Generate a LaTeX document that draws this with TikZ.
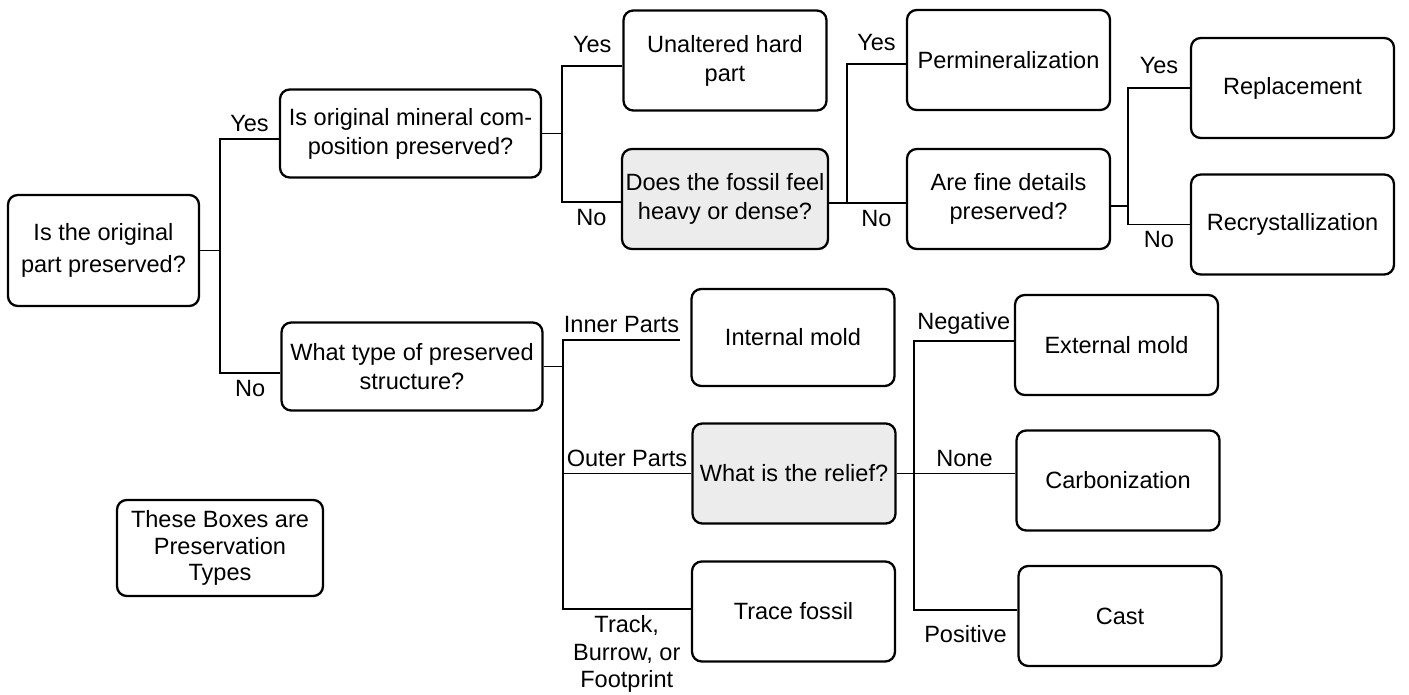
\documentclass[tikz,border=0pt]{standalone}
\usepackage{fontspec}
\setmainfont{Liberation Sans}
\usepackage{xcolor}
\usepackage{tikz}
\definecolor{qshade}{HTML}{ECECEC}

\begin{document}
\begin{tikzpicture}[
  x=0.02cm, y=-0.02cm,
  txt/.style={font=\fontsize{13.4}{16.5}\selectfont},
  box/.style={
    txt, draw=black, line width=1.3pt, rounded corners=5.5pt,
    fill=white, align=center, inner sep=2pt,
    minimum width=4.06cm, minimum height=2cm
  },
  ask/.style={box, minimum width=5.22cm, minimum height=1.76cm},
  askshade/.style={box, fill=qshade},
  link/.style={line width=1.1pt, black},
  lbl/.style={txt, align=center},
]
\useasboundingbox (0,0) rectangle (1409,695);

% Questions
\node[box, minimum width=3.82cm, minimum height=2.22cm,
  font=\fontsize{13.4}{18}\selectfont] (orig) at (103.5,250.5)
  {Is the original\\part preserved?};
\node[ask] (mineral)   at (410.5,133.5) {Is original mineral com-\\position preserved?};
\node[ask] (structure) at (412,366.5)   {What type of preserved\\structure?};
\node[askshade] (heavy) at (725,199)    {Does the fossil feel\\heavy or dense?};
\node[box] (fine)      at (1008.5,199)  {Are fine details\\preserved?};
\node[askshade] (relief) at (794,473.5) {What is the relief?};

% Preservation types
\node[box] (unaltered) at (725,60.5)    {Unaltered hard\\part};
\node[box] (permin)    at (1008.5,60)   {Permineralization};
\node[box] (replace)   at (1292.5,88)   {Replacement};
\node[box] (recryst)   at (1292.5,224.5) {Recrystallization};
\node[box, minimum height=1.94cm] (inmold) at (793,337.5) {Internal mold};
\node[box] (trace)     at (793.5,611.5) {Trace fossil};
\node[box] (exmold)    at (1116.5,345)  {External mold};
\node[box] (carbon)    at (1118,480.5)  {Carbonization};
\node[box] (cast)      at (1120,616)    {Cast};

% Legend
\node[box, minimum width=4.12cm, minimum height=1.92cm,
  font=\fontsize{13.4}{15.3}\selectfont] (legend) at (220,548)
  {These Boxes are\\Preservation\\Types};

% Original part preserved?
\draw[link] (orig.east) -- ++(20,0) coordinate (s1);
\draw[link] (s1) |- ([yshift=-0.11cm]mineral.west) node[lbl, pos=0.75, above] {Yes};
\draw[link] (s1) |- ([yshift=-0.13cm]structure.west) node[lbl, pos=0.75, below] {No};

% Mineral composition
\draw[link] (mineral.east) -- ++(20,0) coordinate (s2);
\draw[link] (s2) |- ([yshift=-0.11cm]unaltered.west) node[lbl, pos=0.75, above=3.5pt] {Yes};
\draw[link] (s2) |- ([yshift=-0.06cm]heavy.west) node[lbl, pos=0.75, below] {No};

% Heavy or dense
\coordinate (s3) at ([xshift=0.36cm, yshift=-0.08cm]heavy.east);
\draw[link] ([yshift=-0.08cm]heavy.east) -- (s3);
\draw[link] (s3) -- ([yshift=-0.08cm]fine.west) node[lbl, midway, below] {No};
\draw[link] (s3) |- ([yshift=-0.08cm]permin.west) node[lbl, pos=0.75, above=3.5pt] {Yes};

% Fine details
\draw[link] ([yshift=-0.14cm]fine.east) -- ++(17,0) coordinate (s4);
\draw[link] (s4) |- (replace.west) node[lbl, pos=0.75, above=4.5pt] {Yes};
\draw[link] (s4) |- (recryst.west) node[lbl, pos=0.75, below] {No};

% Preserved structure
\draw[link] (structure.east) -- ++(19,0) coordinate (s5);
\coordinate (inner) at ([xshift=-0.2cm, yshift=-0.05cm]inmold.west);
\draw[link] (s5) |- (inner) node[lbl, pos=0.75, above] {Inner Parts};
\draw[link] (s5) |- (relief.west) node[lbl, pos=0.75, above] {Outer Parts};
\draw[link] (s5) |- ([yshift=0.05cm]trace.west)
  node[lbl, pos=0.75, below, font=\fontsize{13.4}{15.5}\selectfont] {Track,\\Burrow, or\\Footprint};

% Relief
\coordinate (s6) at ([xshift=0.34cm]relief.east);
\draw[link] (relief.east) -- (s6);
\draw[link] (s6) -- (s6 -| carbon.west) node[lbl, midway, above] {None};
\draw[link] (s6) |- ([yshift=0.08cm]exmold.west) node[lbl, pos=0.75, above] {Negative};
\draw[link] (s6) |- ([yshift=0.12cm]cast.west) node[lbl, pos=0.75, below=5pt] {Positive};

\end{tikzpicture}
\end{document}
